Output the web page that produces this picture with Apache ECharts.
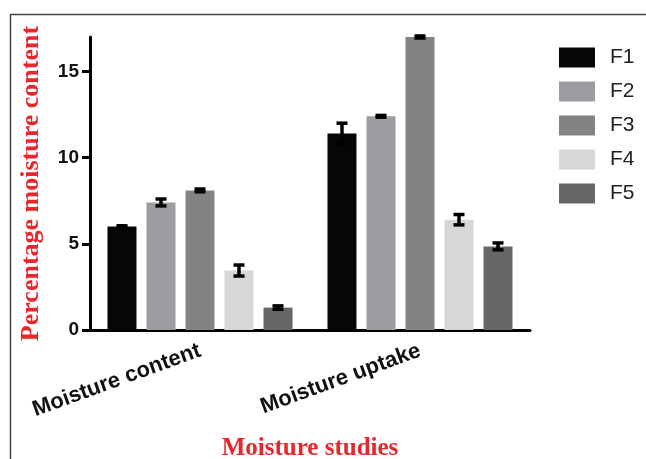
<!DOCTYPE html>
<html>
<head>
<meta charset="utf-8">
<script src="https://cdn.jsdelivr.net/npm/echarts@6/dist/echarts.min.js"></script>
<style>
html,body{margin:0;padding:0;background:#fff;}
#chart{width:646px;height:459px;}
</style>
</head>
<body>
<div id="chart"></div>
<script>
// ---- data ----
const categories = ['Moisture content', 'Moisture uptake'];
const seriesNames = ['F1', 'F2', 'F3', 'F4', 'F5'];
const F1 = [6.0, 11.4];
const F2 = [7.4, 12.4];
const F3 = [8.1, 17.0];
const F4 = [3.45, 6.4];
const F5 = [1.3, 4.85];
const F1err = [0.05, 0.6];
const F2err = [0.2, 0.05];
const F3err = [0.08, 0.06];
const F4err = [0.32, 0.3];
const F5err = [0.1, 0.2];
const yTicks = [0, 5, 10, 15];
const yMax = 17;

const values = [F1, F2, F3, F4, F5];
const errors = [F1err, F2err, F3err, F4err, F5err];
const colors = ['#060606', '#9c9da1', '#838383', '#d7d7d7', '#676767'];

const BAR_W = 29, BAR_GAP_PX = 10;
const nSeries = seriesNames.length;

const chart = echarts.init(document.getElementById('chart'), null, {renderer: 'canvas'});

const barSeries = seriesNames.map((name, i) => ({
  name: name,
  type: 'bar',
  data: values[i],
  barWidth: BAR_W,
  barGap: (BAR_GAP_PX / BAR_W * 100).toFixed(1) + '%',
  itemStyle: {color: colors[i]},
  z: 2
}));

const errSeries = seriesNames.map((name, i) => ({
  name: name,
  type: 'custom',
  z: 5,
  data: values[i].map((v, j) => [j, v, errors[i][j]]),
  renderItem: function (params, api) {
    const cat = api.value(0), mean = api.value(1), e = api.value(2);
    const center = api.coord([cat, mean]);
    const offset = (i - (nSeries - 1) / 2) * (BAR_W + BAR_GAP_PX);
    const x = center[0] + offset;
    const hi = api.coord([cat, mean + e])[1];
    const lo = api.coord([cat, mean - e])[1];
    const cap = 5.5;
    const st = {stroke: '#000', lineWidth: 3.5};
    return {
      type: 'group',
      children: [
        {type: 'line', shape: {x1: x, y1: hi, x2: x, y2: lo}, style: st},
        {type: 'line', shape: {x1: x - cap, y1: hi, x2: x + cap, y2: hi}, style: st},
        {type: 'line', shape: {x1: x - cap, y1: lo, x2: x + cap, y2: lo}, style: st}
      ]
    };
  }
}));

chart.setOption({
  animation: false,
  backgroundColor: '#fff',
  graphic: [{
    type: 'rect',
    shape: {x: 10.5, y: 14.5, width: 800, height: 600},
    style: {fill: 'none', stroke: '#444', lineWidth: 1.5},
    silent: true,
    z: -1
  }],
  grid: {left: 90, right: 116, top: 37, bottom: 129, containLabel: false, outerBoundsMode: 'none'},
  legend: {
    data: seriesNames,
    orient: 'vertical',
    left: 554,
    top: 42,
    itemWidth: 36,
    itemHeight: 20,
    itemGap: 13,
    icon: 'rect',
    textStyle: {fontFamily: 'Liberation Sans, Arial, sans-serif', fontSize: 21, color: '#222', padding: [0, 0, 0, 10]}
  },
  xAxis: {
    type: 'category',
    data: categories,
    name: 'Moisture studies',
    nameLocation: 'middle',
    nameGap: 106,
    nameTextStyle: {fontFamily: 'Liberation Serif, Times New Roman, serif', fontWeight: 'bold', fontSize: 25, color: '#e8262b'},
    axisLine: {lineStyle: {color: '#000', width: 3}},
    axisTick: {alignWithLabel: true, length: 8, lineStyle: {color: '#000', width: 3}},
    axisLabel: {rotate: 20, fontSize: 22, fontWeight: 'bold', color: '#111', fontFamily: 'Liberation Sans, Arial, sans-serif', margin: 20}
  },
  yAxis: {
    type: 'value',
    min: 0,
    max: yMax,
    interval: 5,
    name: 'Percentage moisture content',
    nameLocation: 'middle',
    nameGap: 46,
    nameTextStyle: {fontFamily: 'Liberation Serif, Times New Roman, serif', fontWeight: 'bold', fontSize: 26, color: '#e8262b'},
    splitLine: {show: false},
    axisLine: {show: true, lineStyle: {color: '#000', width: 3}},
    axisTick: {show: true, length: 8, customValues: yTicks, lineStyle: {color: '#000', width: 3}},
    axisLabel: {customValues: yTicks, fontSize: 19, fontWeight: 'bold', color: '#111', fontFamily: 'Liberation Sans, Arial, sans-serif', margin: 11}
  },
  series: barSeries.concat(errSeries)
});
</script>
</body>
</html>
